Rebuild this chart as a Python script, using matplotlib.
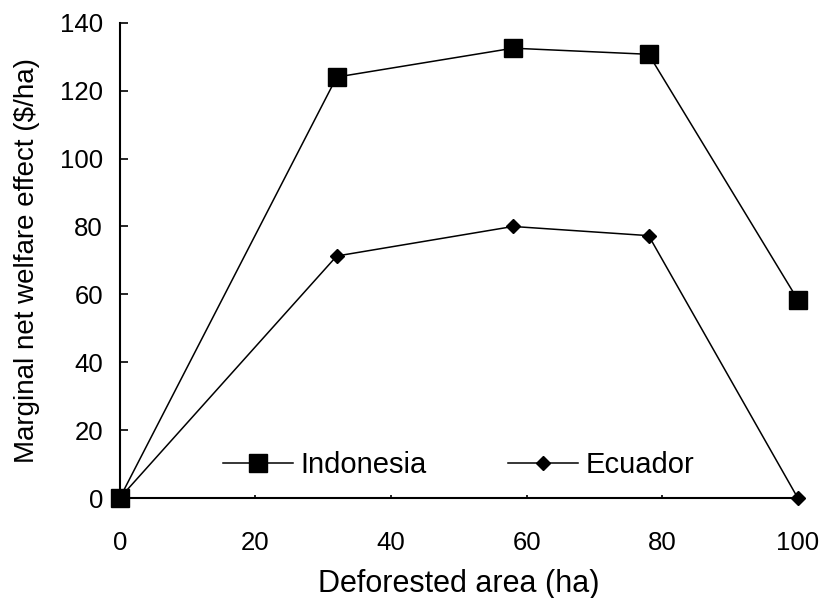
import matplotlib
matplotlib.use("Agg")
import matplotlib.pyplot as plt

plt.rcParams['font.family'] = ['Liberation Sans', 'DejaVu Sans']

area = [0, 32, 58, 78, 100]
indonesia = [0, 124, 132.5, 130.7, 58.4]
ecuador = [0, 71.3, 80, 77.3, 0]
x_ticks = [0, 20, 40, 60, 80, 100]
y_ticks = [0, 20, 40, 60, 80, 100, 120, 140]

fig = plt.figure(figsize=(8.2, 5.98), dpi=100)
ax = fig.add_axes([0.146, 0.167, 0.827, 0.795])

ax.plot(area, indonesia, color='black', lw=1.1, marker='s', ms=13,
        mfc='black', mec='black', label='Indonesia', clip_on=False, zorder=3)
ax.plot(area, ecuador, color='black', lw=1.1, marker='D', ms=7.5,
        mfc='black', mec='black', label='Ecuador', clip_on=False, zorder=3)

ax.set_xlim(0, 100)
ax.set_ylim(0, 140)
ax.set_xticks(x_ticks)
ax.set_yticks(y_ticks)
ax.tick_params(axis='y', direction='in', length=6, width=1.2, labelsize=18.5, pad=12)
ax.tick_params(axis='x', direction='in', length=2.5, width=1.2, labelsize=18.5, pad=24)
for s in ['top', 'right']:
    ax.spines[s].set_visible(False)
for s in ['left', 'bottom']:
    ax.spines[s].set_linewidth(1.5)

ax.set_xlabel('Deforested area (ha)', fontsize=22, labelpad=10)
ax.set_ylabel('Marginal net welfare effect ($/ha)', fontsize=20, labelpad=14)

ax.legend(loc='center', bbox_to_anchor=(0.5, 0.07), ncol=2, frameon=False,
          fontsize=21, handlelength=2.4, handletextpad=0.25, columnspacing=2.8,
          borderpad=0, borderaxespad=0)

fig.savefig('out.png', dpi=100)
